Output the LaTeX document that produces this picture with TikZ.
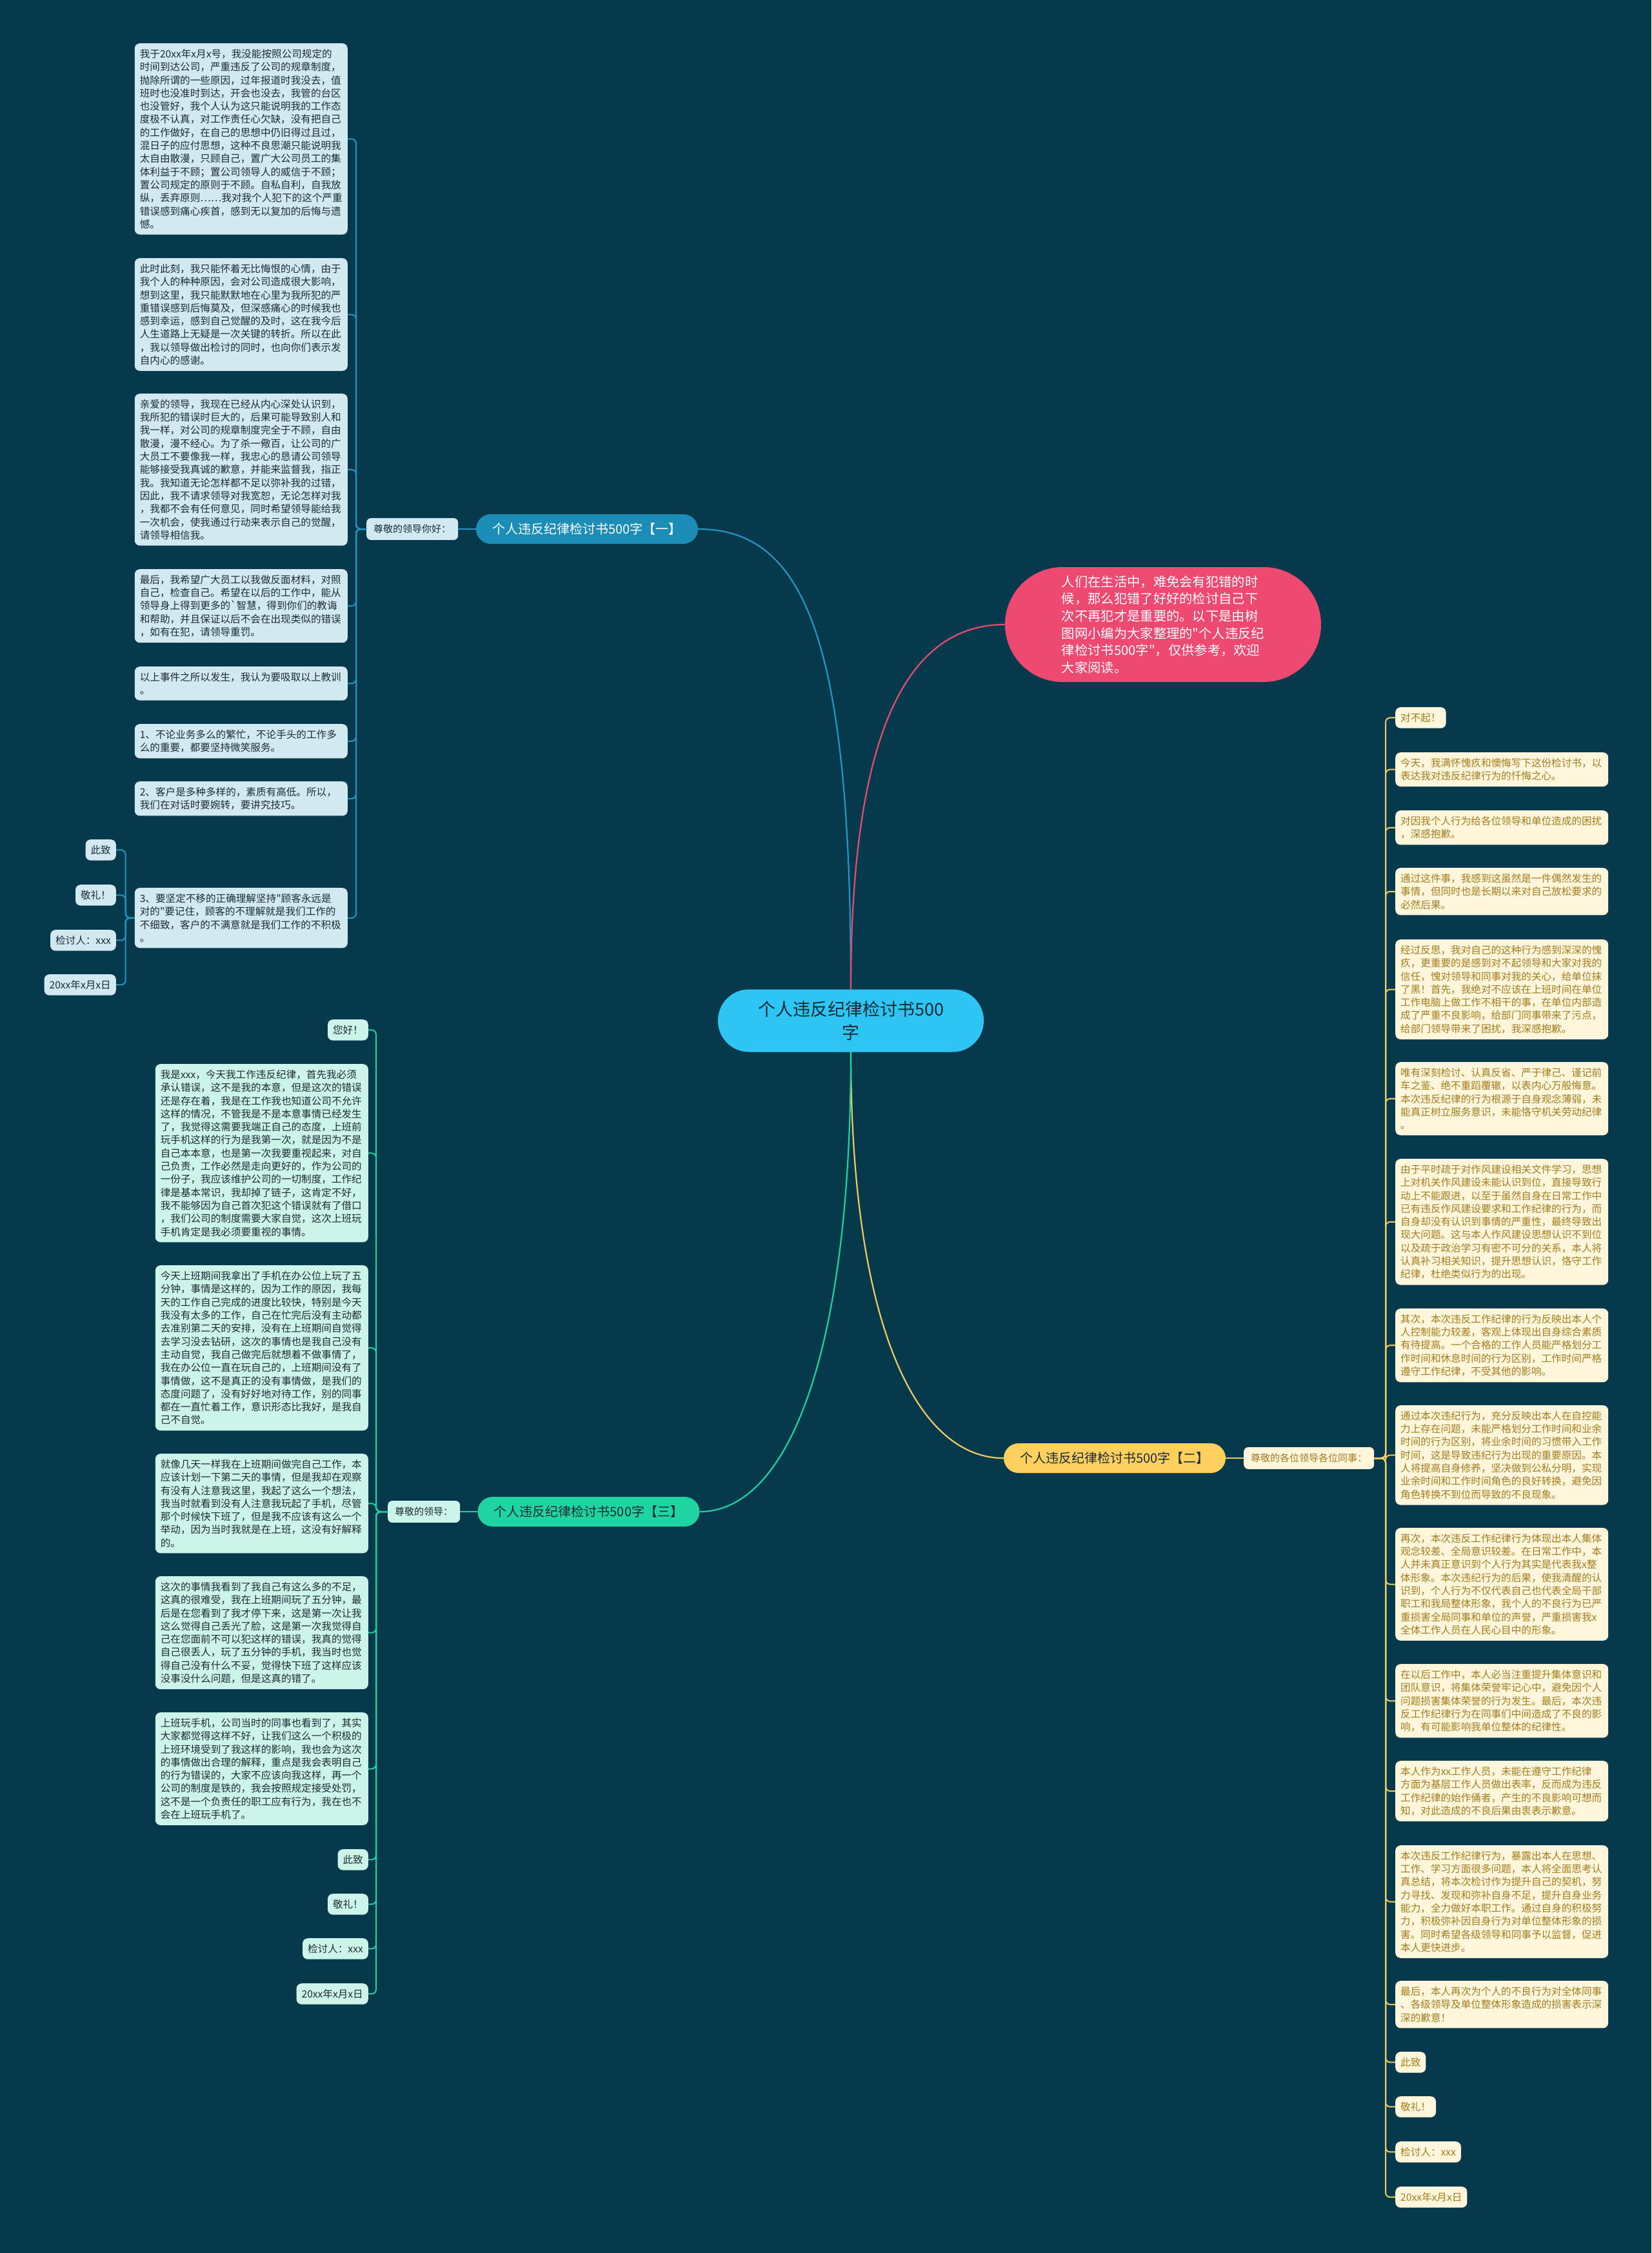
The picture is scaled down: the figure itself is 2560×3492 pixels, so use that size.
\documentclass[tikz,border=0pt]{standalone}
\usepackage{fontspec}
\newfontfamily\cjk{Noto Sans CJK SC}
\definecolor{bg}{HTML}{07394C}
\definecolor{lnA}{HTML}{2496C3}
\definecolor{fillA}{HTML}{D2E9F1}
\definecolor{nodeA}{HTML}{1B8DB6}
\definecolor{lnB}{HTML}{EFCB62}
\definecolor{fillB}{HTML}{FFF6DB}
\definecolor{txtB}{HTML}{A37C1F}
\definecolor{nodeB}{HTML}{FFD05E}
\definecolor{lnC}{HTML}{1FD2A0}
\definecolor{fillC}{HTML}{CDF4E9}
\definecolor{nodeC}{HTML}{20D4A2}
\definecolor{pinkF}{HTML}{EE4970}
\definecolor{pinkL}{HTML}{E24F73}
\definecolor{cenF}{HTML}{2EC5F4}
\definecolor{dark}{HTML}{1B2B33}
\tikzset{
  blk/.style={rounded corners=8pt, inner xsep=8pt, inner ysep=9pt, text width=314pt, align=left, font=\cjk\fontsize{15.6}{20.3}\selectfont},
  sml/.style={rounded corners=8pt, inner xsep=8pt, inner ysep=9pt, font=\cjk\fontsize{15.6}{20.3}\selectfont},
  lab/.style={rounded corners=7pt, inner xsep=11pt, inner ysep=10pt, font=\cjk\fontsize{15}{18}\selectfont},
  brn/.style={rounded corners=23pt, minimum height=46pt, minimum width=344pt, inner sep=0pt, font=\cjk\fontsize{20}{24}\selectfont},
  fA/.style={fill=fillA, text=dark},
  fB/.style={fill=fillB, text=txtB},
  fC/.style={fill=fillC, text=dark},
  wA/.style={draw=lnA, line width=2pt, rounded corners=7pt},
  wB/.style={draw=lnB, line width=2pt, rounded corners=7pt},
  wC/.style={draw=lnC, line width=2pt, rounded corners=7pt},
}
\begin{document}
\begin{tikzpicture}[x=1pt,y=-1pt]
\fill[bg] (0,0) rectangle (2560,3492);
\useasboundingbox (0,0) rectangle (2560,3492);

% central node and intro bubble
\node[fill=cenF, text=dark, rounded corners=48pt, minimum width=412pt, minimum height=97pt, inner sep=0pt, align=center, font=\cjk\fontsize{27}{36}\selectfont] (c) at (1319,1582) {个人违反纪律检讨书500\\字};
\node[fill=pinkF, text=white, rounded corners=89pt, minimum width=490pt, minimum height=178pt, inner sep=0pt, align=left, font=\cjk\fontsize{20.3}{26.6}\selectfont] (pk) at (1803,968) {人们在生活中，难免会有犯错的时\\候，那么犯错了好好的检讨自己下\\次不再犯才是重要的。以下是由树\\图网小编为大家整理的"个人违反纪\\律检讨书500字"，仅供参考，欢迎\\大家阅读。};

% branch nodes and labels
\node[brn, fill=nodeA, text=white] (n1) at (910,820) {个人违反纪律检讨书500字【一】};
\node[lab, fA, anchor=west] (l1) at (568,820) {尊敬的领导你好：};
\node[brn, fill=nodeB, text=dark] (n2) at (1728,2260) {个人违反纪律检讨书500字【二】};
\node[lab, fB, anchor=west] (l2) at (1928,2260) {尊敬的各位领导各位同事：};
\node[brn, fill=nodeC, text=dark] (n3) at (912.5,2343) {个人违反纪律检讨书500字【三】};
\node[lab, fC, anchor=west] (l3) at (601,2343) {尊敬的领导：};

% branch one leaves
\node[blk, fA, anchor=north east] (a1) at (539,67) {我于20xx年x月x号，我没能按照公司规定的\\时间到达公司，严重违反了公司的规章制度，\\抛除所谓的一些原因，过年报道时我没去，值\\班时也没准时到达，开会也没去，我管的台区\\也没管好，我个人认为这只能说明我的工作态\\度极不认真，对工作责任心欠缺，没有把自己\\的工作做好，在自己的思想中仍旧得过且过，\\混日子的应付思想，这种不良思潮只能说明我\\太自由散漫，只顾自己，置广大公司员工的集\\体利益于不顾；置公司领导人的威信于不顾；\\置公司规定的原则于不顾。自私自利，自我放\\纵，丢弃原则……我对我个人犯下的这个严重\\错误感到痛心疾首，感到无以复加的后悔与遗\\憾。};
\node[blk, fA, anchor=north east] (a2) at (539,400) {此时此刻，我只能怀着无比悔恨的心情，由于\\我个人的种种原因，会对公司造成很大影响，\\想到这里，我只能默默地在心里为我所犯的严\\重错误感到后悔莫及，但深感痛心的时候我也\\感到幸运，感到自己觉醒的及时，这在我今后\\人生道路上无疑是一次关键的转折。所以在此\\，我以领导做出检讨的同时，也向你们表示发\\自内心的感谢。};
\node[blk, fA, anchor=north east] (a3) at (539,610) {亲爱的领导，我现在已经从内心深处认识到，\\我所犯的错误时巨大的，后果可能导致别人和\\我一样，对公司的规章制度完全于不顾，自由\\散漫，漫不经心。为了杀一儆百，让公司的广\\大员工不要像我一样，我忠心的恳请公司领导\\能够接受我真诚的歉意，并能来监督我，指正\\我。我知道无论怎样都不足以弥补我的过错，\\因此，我不请求领导对我宽恕，无论怎样对我\\，我都不会有任何意见，同时希望领导能给我\\一次机会，使我通过行动来表示自己的觉醒，\\请领导相信我。};
\node[blk, fA, anchor=north east] (a4) at (539,882) {最后，我希望广大员工以我做反面材料，对照\\自己，检查自己。希望在以后的工作中，能从\\领导身上得到更多的`智慧，得到你们的教诲\\和帮助，并且保证以后不会在出现类似的错误\\，如有在犯，请领导重罚。};
\node[blk, fA, anchor=north east] (a5) at (539,1033) {以上事件之所以发生，我认为要吸取以上教训\\。};
\node[blk, fA, anchor=north east] (a6) at (539,1122) {1、不论业务多么的繁忙，不论手头的工作多\\么的重要，都要坚持微笑服务。};
\node[blk, fA, anchor=north east] (a7) at (539,1211) {2、客户是多种多样的，素质有高低。所以，\\我们在对话时要婉转，要讲究技巧。};
\node[blk, fA, anchor=north east] (a8) at (539,1376) {3、要坚定不移的正确理解坚持"顾客永远是\\对的"要记住，顾客的不理解就是我们工作的\\不细致，客户的不满意就是我们工作的不积极\\。};
\node[sml, fA, anchor=north east] (a9) at (180,1301) {此致};
\node[sml, fA, anchor=north east] (a10) at (180,1371) {敬礼！};
\node[sml, fA, anchor=north east] (a11) at (180,1441) {检讨人：xxx};
\node[sml, fA, anchor=north east] (a12) at (180,1510) {20xx年x月x日};

% branch three leaves
\node[sml, fC, anchor=north east] (c1) at (571,1580) {您好！};
\node[blk, fC, anchor=north east] (c2) at (571,1649) {我是xxx，今天我工作违反纪律，首先我必须\\承认错误，这不是我的本意，但是这次的错误\\还是存在着，我是在工作我也知道公司不允许\\这样的情况，不管我是不是本意事情已经发生\\了，我觉得这需要我端正自己的态度，上班前\\玩手机这样的行为是我第一次，就是因为不是\\自己本本意，也是第一次我要重视起来，对自\\己负责，工作必然是走向更好的，作为公司的\\一份子，我应该维护公司的一切制度，工作纪\\律是基本常识，我却掉了链子，这肯定不好，\\我不能够因为自己首次犯这个错误就有了借口\\，我们公司的制度需要大家自觉，这次上班玩\\手机肯定是我必须要重视的事情。};
\node[blk, fC, anchor=north east] (c3) at (571,1961) {今天上班期间我拿出了手机在办公位上玩了五\\分钟，事情是这样的，因为工作的原因，我每\\天的工作自己完成的进度比较快，特别是今天\\我没有太多的工作，自己在忙完后没有主动都\\去准别第二天的安排，没有在上班期间自觉得\\去学习没去钻研，这次的事情也是我自己没有\\主动自觉，我自己做完后就想着不做事情了，\\我在办公位一直在玩自己的，上班期间没有了\\事情做，这不是真正的没有事情做，是我们的\\态度问题了，没有好好地对待工作，别的同事\\都在一直忙着工作，意识形态比我好，是我自\\己不自觉。};
\node[blk, fC, anchor=north east] (c4) at (571,2253) {就像几天一样我在上班期间做完自己工作，本\\应该计划一下第二天的事情，但是我却在观察\\有没有人注意我这里，我起了这么一个想法，\\我当时就看到没有人注意我玩起了手机，尽管\\那个时候快下班了，但是我不应该有这么一个\\举动，因为当时我就是在上班，这没有好解释\\的。};
\node[blk, fC, anchor=north east] (c5) at (571,2443) {这次的事情我看到了我自己有这么多的不足，\\这真的很难受，我在上班期间玩了五分钟，最\\后是在您看到了我才停下来，这是第一次让我\\这么觉得自己丢光了脸，这是第一次我觉得自\\己在您面前不可以犯这样的错误，我真的觉得\\自己很丢人，玩了五分钟的手机，我当时也觉\\得自己没有什么不妥，觉得快下班了这样应该\\没事没什么问题，但是这真的错了。};
\node[blk, fC, anchor=north east] (c6) at (571,2654) {上班玩手机，公司当时的同事也看到了，其实\\大家都觉得这样不好，让我们这么一个积极的\\上班环境受到了我这样的影响，我也会为这次\\的事情做出合理的解释，重点是我会表明自己\\的行为错误的，大家不应该向我这样，再一个\\公司的制度是铁的，我会按照规定接受处罚，\\这不是一个负责任的职工应有行为，我在也不\\会在上班玩手机了。};
\node[sml, fC, anchor=north east] (c7) at (571,2866) {此致};
\node[sml, fC, anchor=north east] (c8) at (571,2935) {敬礼！};
\node[sml, fC, anchor=north east] (c9) at (571,3004) {检讨人：xxx};
\node[sml, fC, anchor=north east] (c10) at (571,3074) {20xx年x月x日};

% branch two leaves
\node[sml, fB, anchor=north west] (b1) at (2163,1096) {对不起！};
\node[blk, fB, anchor=north west] (b2) at (2163,1166) {今天，我满怀愧疚和懊悔写下这份检讨书，以\\表达我对违反纪律行为的忏悔之心。};
\node[blk, fB, anchor=north west] (b3) at (2163,1256) {对因我个人行为给各位领导和单位造成的困扰\\，深感抱歉。};
\node[blk, fB, anchor=north west] (b4) at (2163,1345) {通过这件事，我感到这虽然是一件偶然发生的\\事情，但同时也是长期以来对自己放松要求的\\必然后果。};
\node[blk, fB, anchor=north west] (b5) at (2163,1456) {经过反思，我对自己的这种行为感到深深的愧\\疚，更重要的是感到对不起领导和大家对我的\\信任，愧对领导和同事对我的关心，给单位抹\\了黑！首先，我绝对不应该在上班时间在单位\\工作电脑上做工作不相干的事，在单位内部造\\成了严重不良影响，给部门同事带来了污点，\\给部门领导带来了困扰，我深感抱歉。};
\node[blk, fB, anchor=north west] (b6) at (2163,1646) {唯有深刻检讨、认真反省、严于律己、谨记前\\车之鉴、绝不重蹈覆辙，以表内心万般悔意。\\本次违反纪律的行为根源于自身观念薄弱，未\\能真正树立服务意识，未能恪守机关劳动纪律\\。};
\node[blk, fB, anchor=north west] (b7) at (2163,1796) {由于平时疏于对作风建设相关文件学习，思想\\上对机关作风建设未能认识到位，直接导致行\\动上不能跟进，以至于虽然自身在日常工作中\\已有违反作风建设要求和工作纪律的行为，而\\自身却没有认识到事情的严重性，最终导致出\\现大问题。这与本人作风建设思想认识不到位\\以及疏于政治学习有密不可分的关系，本人将\\认真补习相关知识，提升思想认识，恪守工作\\纪律，杜绝类似行为的出现。};
\node[blk, fB, anchor=north west] (b8) at (2163,2028) {其次，本次违反工作纪律的行为反映出本人个\\人控制能力较差，客观上体现出自身综合素质\\有待提高。一个合格的工作人员能严格划分工\\作时间和休息时间的行为区别，工作时间严格\\遵守工作纪律，不受其他的影响。};
\node[blk, fB, anchor=north west] (b9) at (2163,2178) {通过本次违纪行为，充分反映出本人在自控能\\力上存在问题，未能严格划分工作时间和业余\\时间的行为区别，将业余时间的习惯带入工作\\时间，这是导致违纪行为出现的重要原因。本\\人将提高自身修养，坚决做到公私分明，实现\\业余时间和工作时间角色的良好转换，避免因\\角色转换不到位而导致的不良现象。};
\node[blk, fB, anchor=north west] (b10) at (2163,2368) {再次，本次违反工作纪律行为体现出本人集体\\观念较差、全局意识较差。在日常工作中，本\\人并未真正意识到个人行为其实是代表我x整\\体形象。本次违纪行为的后果，使我清醒的认\\识到，个人行为不仅代表自己也代表全局干部\\职工和我局整体形象，我个人的不良行为已严\\重损害全局同事和单位的声誉，严重损害我x\\全体工作人员在人民心目中的形象。};
\node[blk, fB, anchor=north west] (b11) at (2163,2579) {在以后工作中，本人必当注重提升集体意识和\\团队意识，将集体荣誉牢记心中，避免因个人\\问题损害集体荣誉的行为发生。最后，本次违\\反工作纪律行为在同事们中间造成了不良的影\\响，有可能影响我单位整体的纪律性。};
\node[blk, fB, anchor=north west] (b12) at (2163,2729) {本人作为xx工作人员，未能在遵守工作纪律\\方面为基层工作人员做出表率，反而成为违反\\工作纪律的始作俑者，产生的不良影响可想而\\知，对此造成的不良后果由衷表示歉意。};
\node[blk, fB, anchor=north west] (b13) at (2163,2860) {本次违反工作纪律行为，暴露出本人在思想、\\工作、学习方面很多问题，本人将全面思考认\\真总结，将本次检讨作为提升自己的契机，努\\力寻找、发现和弥补自身不足，提升自身业务\\能力，全力做好本职工作。通过自身的积极努\\力，积极弥补因自身行为对单位整体形象的损\\害。同时希望各级领导和同事予以监督，促进\\本人更快进步。};
\node[blk, fB, anchor=north west] (b14) at (2163,3070) {最后，本人再次为个人的不良行为对全体同事\\、各级领导及单位整体形象造成的损害表示深\\深的歉意！};
\node[sml, fB, anchor=north west] (b15) at (2163,3180) {此致};
\node[sml, fB, anchor=north west] (b16) at (2163,3249) {敬礼！};
\node[sml, fB, anchor=north west] (b17) at (2163,3319) {检讨人：xxx};
\node[sml, fB, anchor=north west] (b18) at (2163,3389) {20xx年x月x日};

% main connectors
\draw[draw=lnA, line width=2.2pt] (c.north) .. controls +(0,-534) and +(168,0) .. (n1.east);
\draw[draw=pinkL, line width=2.2pt] (c.north) .. controls +(0,-384) and +(-158,0) .. (pk.west);
\draw[draw=lnB, line width=2.2pt] (c.south) .. controls +(0,420) and +(-136,0) .. (n2.west);
\draw[draw=lnC, line width=2.2pt] (c.south) .. controls +(0,470) and +(136,0) .. (n3.east);

% branch to label
\draw[draw=lnA, line width=2pt] (n1.west) -- (l1.east);
\draw[draw=lnB, line width=2pt] (n2.east) -- (l2.west);
\draw[draw=lnC, line width=2pt] (n3.west) -- (l3.east);

% spines
\coordinate (s1) at (552,820);
\foreach \k in {a1,a2,a3,a4,a5,a6,a7,a8} \draw[wA] (l1.west) -- (s1) |- (\k.east);
\path (a8.west) ++(-14,0) coordinate (s8);
\foreach \k in {a9,a10,a11,a12} \draw[wA] (a8.west) -- (s8) |- (\k.east);
\coordinate (s3) at (583,2343);
\foreach \k in {c1,c2,c3,c4,c5,c6,c7,c8,c9,c10} \draw[wC] (l3.west) -- (s3) |- (\k.east);
\coordinate (s2) at (2148,2260);
\foreach \k in {b1,b2,b3,b4,b5,b6,b7,b8,b9,b10,b11,b12,b13,b14,b15,b16,b17,b18} \draw[wB] (l2.east) -- (s2) |- (\k.west);
\end{tikzpicture}
\end{document}
